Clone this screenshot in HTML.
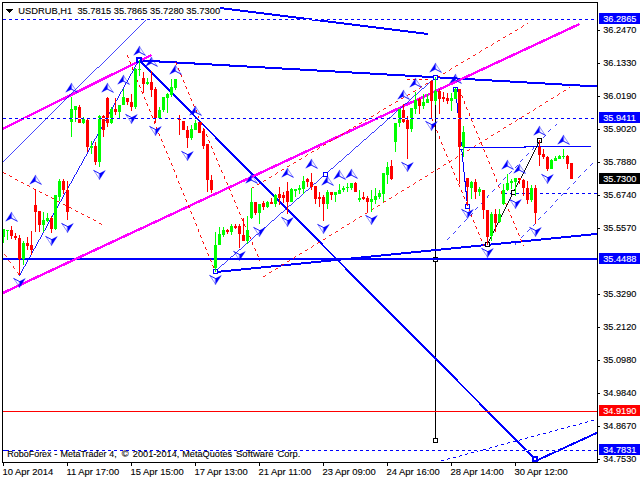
<!DOCTYPE html>
<html><head><meta charset="utf-8"><title>USDRUB,H1</title>
<style>html,body{margin:0;padding:0;background:#fff}svg{display:block}</style></head>
<body><svg width="640" height="480" viewBox="0 0 640 480">
<rect width="640" height="480" fill="#fff"/>
<g shape-rendering="crispEdges" fill="none">
<line x1="435.5" y1="77.5" x2="435.5" y2="440.5" stroke="#000" stroke-width="1"/>
<rect x="433" y="257" width="5" height="5" fill="#000"/><rect x="434" y="258" width="3" height="3" fill="#fff"/>
<line x1="3" y1="259" x2="597" y2="259" stroke="#0000ff" stroke-width="2"/>
<line x1="139" y1="60.33" x2="597" y2="86.5" stroke="#0000ff" stroke-width="2"/>
<line x1="180" y1="3" x2="428" y2="34" stroke="#0000ff" stroke-width="2"/>
<line x1="139" y1="60" x2="535.5" y2="459.5" stroke="#0000ff" stroke-width="2"/>
<line x1="535.5" y1="461" x2="597" y2="432.8" stroke="#0000ff" stroke-width="2"/>
<line x1="215" y1="272.09" x2="597" y2="233.89" stroke="#0000ff" stroke-width="2"/>
<line x1="3" y1="128.7" x2="151.5" y2="55" stroke="#ff00ff" stroke-width="2.4"/>
<line x1="3" y1="292.9" x2="579.5" y2="24.0" stroke="#ff00ff" stroke-width="2.4"/>
<line x1="3" y1="411.5" x2="597" y2="411.5" stroke="#ff0000" stroke-width="1"/>
<line x1="127" y1="55" x2="215" y2="271" stroke="#ff0000" stroke-width="0.945" stroke-dasharray="3.24 3.24"/>
<line x1="175.4" y1="62" x2="260" y2="261" stroke="#ff0000" stroke-width="0.939" stroke-dasharray="3.26 3.26"/>
<line x1="431.5" y1="118" x2="484" y2="246" stroke="#ff0000" stroke-width="0.944" stroke-dasharray="3.24 3.24"/>
<line x1="459" y1="89" x2="523.4" y2="246" stroke="#ff0000" stroke-width="0.944" stroke-dasharray="3.24 3.24"/>
<line x1="251" y1="188.75" x2="528" y2="23.2" stroke="#ff0000" stroke-width="0.876" stroke-dasharray="3.49 3.49"/>
<line x1="263" y1="277" x2="570" y2="87.5" stroke="#ff0000" stroke-width="0.868" stroke-dasharray="3.53 3.53"/>
<line x1="407" y1="79.5" x2="431" y2="79.5" stroke="#ff0000" stroke-width="1" stroke-dasharray="3.00 3.00"/>
<line x1="3" y1="172.5" x2="102" y2="224.4" stroke="#ff0000" stroke-width="0.903" stroke-dasharray="3.39 3.39"/>
<line x1="0" y1="248" x2="19.5" y2="275.5" stroke="#ff0000" stroke-width="0.832" stroke-dasharray="3.68 3.68"/>
<line x1="447" y1="240.2" x2="556.5" y2="123.5" stroke="#0000ff" stroke-width="0.744" stroke-dasharray="4.11 4.11"/>
<line x1="515" y1="244.5" x2="597" y2="158.5" stroke="#0000ff" stroke-width="0.738" stroke-dasharray="4.15 4.15"/>
<line x1="504" y1="193.5" x2="597" y2="193.5" stroke="#0000ff" stroke-width="1" stroke-dasharray="3.00 3.00"/>
<line x1="441" y1="461" x2="597" y2="419.4" stroke="#0000ff" stroke-width="0.986" stroke-dasharray="3.10 3.10"/>
<line x1="3" y1="161.5" x2="146" y2="20" stroke="#0000ff" stroke-width="0.725"/>
<line x1="19.5" y1="275.5" x2="139" y2="60" stroke="#0000ff" stroke-width="0.892"/>
<line x1="215" y1="271.5" x2="435.5" y2="77.5" stroke="#0000ff" stroke-width="0.766"/>
<line x1="455.6" y1="89.4" x2="467.5" y2="206" stroke="#0000ff" stroke-width="1.015"/>
<line x1="461" y1="147.5" x2="591" y2="146.5" stroke="#0000ff" stroke-width="1.02"/>
<line x1="487.25" y1="244.5" x2="539.6" y2="140.6" stroke="#000" stroke-width="0.911"/>
</g>
<g shape-rendering="crispEdges">
<rect x="136" y="57" width="6" height="6" fill="#00f"/><rect x="138" y="59" width="2" height="2" fill="#fff"/>
<rect x="213" y="269" width="5" height="5" fill="#0000ff"/><rect x="214" y="270" width="3" height="3" fill="#fff"/>
<rect x="323" y="172" width="5" height="5" fill="#0000ff"/><rect x="324" y="173" width="3" height="3" fill="#fff"/>
<rect x="433" y="75" width="5" height="5" fill="#0000ff"/><rect x="434" y="76" width="3" height="3" fill="#fff"/>
<rect x="453" y="87" width="5" height="5" fill="#0000ff"/><rect x="454" y="88" width="3" height="3" fill="#fff"/>
<rect x="465" y="204" width="5" height="5" fill="#0000ff"/><rect x="466" y="205" width="3" height="3" fill="#fff"/>
<rect x="459" y="145" width="5" height="5" fill="#0000ff"/><rect x="460" y="146" width="3" height="3" fill="#fff"/>
<rect x="532" y="456" width="6" height="6" fill="#00f"/><rect x="534" y="458" width="2" height="2" fill="#fff"/>
<rect x="433" y="438" width="5" height="5" fill="#000"/><rect x="434" y="439" width="3" height="3" fill="#fff"/>
<rect x="485" y="242" width="5" height="5" fill="#000"/><rect x="486" y="243" width="3" height="3" fill="#fff"/>
<rect x="511" y="190" width="5" height="5" fill="#000"/><rect x="512" y="191" width="3" height="3" fill="#fff"/>
<rect x="537" y="138" width="5" height="5" fill="#000"/><rect x="538" y="139" width="3" height="3" fill="#fff"/>
</g>
<g shape-rendering="crispEdges">
<rect x="3" y="229.0" width="1" height="14.0" fill="#00ff00"/>
<rect x="2" y="229.0" width="3" height="8.0" fill="#00ff00"/>
<rect x="7" y="230.0" width="1" height="10.0" fill="#00ff00"/>
<rect x="6" y="230.0" width="3" height="1.0" fill="#00ff00"/>
<rect x="11" y="226.0" width="1" height="13.0" fill="#ff0000"/>
<rect x="10" y="230.0" width="3" height="6.0" fill="#ff0000"/>
<rect x="15" y="233.0" width="1" height="7.0" fill="#ff0000"/>
<rect x="14" y="236.0" width="3" height="2.0" fill="#ff0000"/>
<rect x="19" y="235.0" width="1" height="40.0" fill="#ff0000"/>
<rect x="18" y="238.0" width="3" height="21.0" fill="#ff0000"/>
<rect x="23" y="241.0" width="1" height="24.0" fill="#00ff00"/>
<rect x="22" y="243.0" width="3" height="16.0" fill="#00ff00"/>
<rect x="27" y="237.0" width="1" height="13.0" fill="#ff0000"/>
<rect x="26" y="243.0" width="3" height="3.0" fill="#ff0000"/>
<rect x="31" y="231.0" width="1" height="24.0" fill="#ff0000"/>
<rect x="30" y="245.0" width="3" height="5.0" fill="#ff0000"/>
<rect x="35" y="189.0" width="1" height="43.0" fill="#ff0000"/>
<rect x="34" y="205.0" width="3" height="7.0" fill="#ff0000"/>
<rect x="39" y="211.0" width="1" height="21.0" fill="#ff0000"/>
<rect x="38" y="211.0" width="3" height="14.0" fill="#ff0000"/>
<rect x="43" y="212.0" width="1" height="20.0" fill="#00ff00"/>
<rect x="42" y="220.0" width="3" height="5.0" fill="#00ff00"/>
<rect x="47" y="213.0" width="1" height="9.0" fill="#00ff00"/>
<rect x="46" y="218.0" width="3" height="3.0" fill="#00ff00"/>
<rect x="51" y="216.0" width="1" height="17.0" fill="#ff0000"/>
<rect x="50" y="218.0" width="3" height="11.0" fill="#ff0000"/>
<rect x="55" y="195.0" width="1" height="35.0" fill="#00ff00"/>
<rect x="54" y="195.0" width="3" height="34.0" fill="#00ff00"/>
<rect x="59" y="179.0" width="1" height="22.0" fill="#00ff00"/>
<rect x="58" y="181.0" width="3" height="16.0" fill="#00ff00"/>
<rect x="63" y="179.0" width="1" height="15.0" fill="#ff0000"/>
<rect x="62" y="181.0" width="3" height="9.0" fill="#ff0000"/>
<rect x="67" y="181.0" width="1" height="39.0" fill="#ff0000"/>
<rect x="66" y="190.0" width="3" height="22.0" fill="#ff0000"/>
<rect x="71" y="97.0" width="1" height="40.0" fill="#00ff00"/>
<rect x="70" y="109.0" width="3" height="13.0" fill="#00ff00"/>
<rect x="75" y="106.0" width="1" height="16.0" fill="#00ff00"/>
<rect x="74" y="106.0" width="3" height="4.0" fill="#00ff00"/>
<rect x="79" y="105.0" width="1" height="18.0" fill="#ff0000"/>
<rect x="78" y="107.0" width="3" height="16.0" fill="#ff0000"/>
<rect x="83" y="117.0" width="1" height="7.0" fill="#00ff00"/>
<rect x="82" y="119.0" width="3" height="4.0" fill="#00ff00"/>
<rect x="87" y="119.0" width="1" height="33.0" fill="#ff0000"/>
<rect x="86" y="120.0" width="3" height="27.0" fill="#ff0000"/>
<rect x="91" y="141.0" width="1" height="13.0" fill="#00ff00"/>
<rect x="90" y="146.0" width="3" height="2.0" fill="#00ff00"/>
<rect x="95" y="142.0" width="1" height="23.0" fill="#ff0000"/>
<rect x="94" y="146.0" width="3" height="16.0" fill="#ff0000"/>
<rect x="99" y="115.0" width="1" height="52.0" fill="#00ff00"/>
<rect x="98" y="116.0" width="3" height="46.0" fill="#00ff00"/>
<rect x="103" y="115.0" width="1" height="22.0" fill="#ff0000"/>
<rect x="102" y="116.0" width="3" height="14.0" fill="#ff0000"/>
<rect x="107" y="97.0" width="1" height="30.0" fill="#ff0000"/>
<rect x="106" y="98.0" width="3" height="25.0" fill="#ff0000"/>
<rect x="111" y="107.0" width="1" height="17.0" fill="#00ff00"/>
<rect x="110" y="109.0" width="3" height="14.0" fill="#00ff00"/>
<rect x="115" y="98.0" width="1" height="17.0" fill="#ff0000"/>
<rect x="114" y="109.0" width="3" height="3.0" fill="#ff0000"/>
<rect x="119" y="105.0" width="1" height="13.0" fill="#00ff00"/>
<rect x="118" y="105.0" width="3" height="7.0" fill="#00ff00"/>
<rect x="123" y="89.0" width="1" height="16.0" fill="#00ff00"/>
<rect x="122" y="97.0" width="3" height="8.0" fill="#00ff00"/>
<rect x="127" y="98.0" width="1" height="7.0" fill="#ff0000"/>
<rect x="126" y="98.0" width="3" height="4.0" fill="#ff0000"/>
<rect x="131" y="94.0" width="1" height="17.0" fill="#ff0000"/>
<rect x="130" y="102.0" width="3" height="5.0" fill="#ff0000"/>
<rect x="135" y="68.0" width="1" height="41.0" fill="#00ff00"/>
<rect x="134" y="69.0" width="3" height="38.0" fill="#00ff00"/>
<rect x="139" y="60.0" width="1" height="16.0" fill="#00ff00"/>
<rect x="138" y="69.0" width="3" height="1.0" fill="#00ff00"/>
<rect x="143" y="72.0" width="1" height="21.0" fill="#ff0000"/>
<rect x="142" y="78.0" width="3" height="6.0" fill="#ff0000"/>
<rect x="147" y="78.0" width="1" height="7.0" fill="#00ff00"/>
<rect x="146" y="82.0" width="3" height="2.0" fill="#00ff00"/>
<rect x="151" y="71.0" width="1" height="26.0" fill="#ff0000"/>
<rect x="150" y="82.0" width="3" height="8.0" fill="#ff0000"/>
<rect x="155" y="87.0" width="1" height="36.0" fill="#ff0000"/>
<rect x="154" y="89.0" width="3" height="29.0" fill="#ff0000"/>
<rect x="159" y="107.0" width="1" height="12.0" fill="#00ff00"/>
<rect x="158" y="110.0" width="3" height="9.0" fill="#00ff00"/>
<rect x="163" y="97.0" width="1" height="15.0" fill="#00ff00"/>
<rect x="162" y="97.0" width="3" height="13.0" fill="#00ff00"/>
<rect x="167" y="93.0" width="1" height="20.0" fill="#00ff00"/>
<rect x="166" y="94.0" width="3" height="4.0" fill="#00ff00"/>
<rect x="171" y="79.0" width="1" height="18.0" fill="#00ff00"/>
<rect x="170" y="87.0" width="3" height="8.0" fill="#00ff00"/>
<rect x="175" y="79.0" width="1" height="11.0" fill="#00ff00"/>
<rect x="174" y="79.0" width="3" height="9.0" fill="#00ff00"/>
<rect x="179" y="115.0" width="1" height="20.0" fill="#ff0000"/>
<rect x="178" y="118.0" width="3" height="2.0" fill="#ff0000"/>
<rect x="183" y="121.0" width="1" height="9.0" fill="#ff0000"/>
<rect x="182" y="121.0" width="3" height="9.0" fill="#ff0000"/>
<rect x="187" y="126.0" width="1" height="22.0" fill="#ff0000"/>
<rect x="186" y="130.0" width="3" height="8.0" fill="#ff0000"/>
<rect x="191" y="125.0" width="1" height="15.0" fill="#00ff00"/>
<rect x="190" y="129.0" width="3" height="9.0" fill="#00ff00"/>
<rect x="195" y="120.0" width="1" height="10.0" fill="#00ff00"/>
<rect x="194" y="123.0" width="3" height="7.0" fill="#00ff00"/>
<rect x="199" y="122.0" width="1" height="11.0" fill="#ff0000"/>
<rect x="198" y="122.0" width="3" height="11.0" fill="#ff0000"/>
<rect x="203" y="128.0" width="1" height="21.0" fill="#ff0000"/>
<rect x="202" y="131.0" width="3" height="15.0" fill="#ff0000"/>
<rect x="207" y="144.0" width="1" height="48.0" fill="#ff0000"/>
<rect x="206" y="144.0" width="3" height="36.0" fill="#ff0000"/>
<rect x="211" y="175.0" width="1" height="18.0" fill="#ff0000"/>
<rect x="210" y="180.0" width="3" height="10.0" fill="#ff0000"/>
<rect x="215" y="232.0" width="1" height="40.0" fill="#00ff00"/>
<rect x="214" y="245.0" width="3" height="23.0" fill="#00ff00"/>
<rect x="219" y="227.0" width="1" height="18.0" fill="#00ff00"/>
<rect x="218" y="234.0" width="3" height="11.0" fill="#00ff00"/>
<rect x="223" y="227.0" width="1" height="10.0" fill="#00ff00"/>
<rect x="222" y="230.0" width="3" height="5.0" fill="#00ff00"/>
<rect x="227" y="229.0" width="1" height="5.0" fill="#ff0000"/>
<rect x="226" y="230.0" width="3" height="2.0" fill="#ff0000"/>
<rect x="231" y="224.0" width="1" height="11.0" fill="#00ff00"/>
<rect x="230" y="226.0" width="3" height="6.0" fill="#00ff00"/>
<rect x="235" y="224.0" width="1" height="5.0" fill="#ff0000"/>
<rect x="234" y="226.0" width="3" height="2.0" fill="#ff0000"/>
<rect x="239" y="224.0" width="1" height="24.0" fill="#ff0000"/>
<rect x="238" y="226.0" width="3" height="8.0" fill="#ff0000"/>
<rect x="243" y="218.0" width="1" height="23.0" fill="#ff0000"/>
<rect x="242" y="235.0" width="3" height="6.0" fill="#ff0000"/>
<rect x="247" y="216.0" width="1" height="28.0" fill="#00ff00"/>
<rect x="246" y="230.0" width="3" height="11.0" fill="#00ff00"/>
<rect x="251" y="188.0" width="1" height="31.0" fill="#00ff00"/>
<rect x="250" y="202.0" width="3" height="16.0" fill="#00ff00"/>
<rect x="255" y="202.0" width="1" height="13.0" fill="#ff0000"/>
<rect x="254" y="202.0" width="3" height="11.0" fill="#ff0000"/>
<rect x="259" y="204.0" width="1" height="20.0" fill="#00ff00"/>
<rect x="258" y="204.0" width="3" height="9.0" fill="#00ff00"/>
<rect x="263" y="201.0" width="1" height="9.0" fill="#ff0000"/>
<rect x="262" y="203.0" width="3" height="4.0" fill="#ff0000"/>
<rect x="267" y="201.0" width="1" height="7.0" fill="#00ff00"/>
<rect x="266" y="202.0" width="3" height="5.0" fill="#00ff00"/>
<rect x="271" y="198.0" width="1" height="6.0" fill="#ff0000"/>
<rect x="270" y="202.0" width="3" height="2.0" fill="#ff0000"/>
<rect x="275" y="194.0" width="1" height="13.0" fill="#00ff00"/>
<rect x="274" y="195.0" width="3" height="9.0" fill="#00ff00"/>
<rect x="279" y="187.0" width="1" height="18.0" fill="#ff0000"/>
<rect x="278" y="194.0" width="3" height="4.0" fill="#ff0000"/>
<rect x="283" y="192.0" width="1" height="11.0" fill="#ff0000"/>
<rect x="282" y="195.0" width="3" height="3.0" fill="#ff0000"/>
<rect x="287" y="182.0" width="1" height="32.0" fill="#ff0000"/>
<rect x="286" y="191.0" width="3" height="11.0" fill="#ff0000"/>
<rect x="291" y="188.0" width="1" height="14.0" fill="#00ff00"/>
<rect x="290" y="189.0" width="3" height="13.0" fill="#00ff00"/>
<rect x="295" y="189.0" width="1" height="8.0" fill="#00ff00"/>
<rect x="294" y="189.0" width="3" height="2.0" fill="#00ff00"/>
<rect x="299" y="185.0" width="1" height="9.0" fill="#00ff00"/>
<rect x="298" y="188.0" width="3" height="2.0" fill="#00ff00"/>
<rect x="303" y="176.0" width="1" height="18.0" fill="#00ff00"/>
<rect x="302" y="181.0" width="3" height="8.0" fill="#00ff00"/>
<rect x="307" y="178.0" width="1" height="9.0" fill="#ff0000"/>
<rect x="306" y="179.0" width="3" height="3.0" fill="#ff0000"/>
<rect x="311" y="173.0" width="1" height="17.0" fill="#ff0000"/>
<rect x="310" y="182.0" width="3" height="5.0" fill="#ff0000"/>
<rect x="315" y="186.0" width="1" height="18.0" fill="#ff0000"/>
<rect x="314" y="186.0" width="3" height="13.0" fill="#ff0000"/>
<rect x="319" y="192.0" width="1" height="15.0" fill="#ff0000"/>
<rect x="318" y="197.0" width="3" height="2.0" fill="#ff0000"/>
<rect x="323" y="195.0" width="1" height="26.0" fill="#ff0000"/>
<rect x="322" y="197.0" width="3" height="7.0" fill="#ff0000"/>
<rect x="327" y="190.0" width="1" height="19.0" fill="#00ff00"/>
<rect x="326" y="192.0" width="3" height="12.0" fill="#00ff00"/>
<rect x="331" y="192.0" width="1" height="8.0" fill="#ff0000"/>
<rect x="330" y="192.0" width="3" height="3.0" fill="#ff0000"/>
<rect x="335" y="192.0" width="1" height="10.0" fill="#00ff00"/>
<rect x="334" y="192.0" width="3" height="3.0" fill="#00ff00"/>
<rect x="339" y="184.0" width="1" height="10.0" fill="#00ff00"/>
<rect x="338" y="190.0" width="3" height="4.0" fill="#00ff00"/>
<rect x="343" y="186.0" width="1" height="6.0" fill="#00ff00"/>
<rect x="342" y="188.0" width="3" height="2.0" fill="#00ff00"/>
<rect x="347" y="183.0" width="1" height="9.0" fill="#00ff00"/>
<rect x="346" y="187.0" width="3" height="1.0" fill="#00ff00"/>
<rect x="351" y="183.0" width="1" height="7.0" fill="#00ff00"/>
<rect x="350" y="183.0" width="3" height="5.0" fill="#00ff00"/>
<rect x="355" y="182.0" width="1" height="10.0" fill="#ff0000"/>
<rect x="354" y="183.0" width="3" height="9.0" fill="#ff0000"/>
<rect x="359" y="190.0" width="1" height="12.0" fill="#00ff00"/>
<rect x="358" y="198.0" width="3" height="2.0" fill="#00ff00"/>
<rect x="363" y="192.0" width="1" height="8.0" fill="#ff0000"/>
<rect x="362" y="197.0" width="3" height="2.0" fill="#ff0000"/>
<rect x="367" y="196.0" width="1" height="16.0" fill="#ff0000"/>
<rect x="366" y="198.0" width="3" height="4.0" fill="#ff0000"/>
<rect x="371" y="190.0" width="1" height="22.0" fill="#00ff00"/>
<rect x="370" y="199.0" width="3" height="3.0" fill="#00ff00"/>
<rect x="375" y="188.0" width="1" height="16.0" fill="#00ff00"/>
<rect x="374" y="196.0" width="3" height="4.0" fill="#00ff00"/>
<rect x="379" y="190.0" width="1" height="9.0" fill="#00ff00"/>
<rect x="378" y="193.0" width="3" height="4.0" fill="#00ff00"/>
<rect x="383" y="173.0" width="1" height="29.0" fill="#00ff00"/>
<rect x="382" y="173.0" width="3" height="21.0" fill="#00ff00"/>
<rect x="387" y="162.0" width="1" height="22.0" fill="#00ff00"/>
<rect x="386" y="167.0" width="3" height="8.0" fill="#00ff00"/>
<rect x="391" y="160.0" width="1" height="20.0" fill="#ff0000"/>
<rect x="390" y="166.0" width="3" height="13.0" fill="#ff0000"/>
<rect x="395" y="123.0" width="1" height="29.0" fill="#00ff00"/>
<rect x="394" y="123.0" width="3" height="19.0" fill="#00ff00"/>
<rect x="399" y="109.0" width="1" height="18.0" fill="#00ff00"/>
<rect x="398" y="109.0" width="3" height="14.0" fill="#00ff00"/>
<rect x="403" y="104.0" width="1" height="19.0" fill="#ff0000"/>
<rect x="402" y="110.0" width="3" height="12.0" fill="#ff0000"/>
<rect x="407" y="116.0" width="1" height="43.0" fill="#ff0000"/>
<rect x="406" y="120.0" width="3" height="9.0" fill="#ff0000"/>
<rect x="411" y="108.0" width="1" height="24.0" fill="#00ff00"/>
<rect x="410" y="108.0" width="3" height="21.0" fill="#00ff00"/>
<rect x="415" y="92.0" width="1" height="22.0" fill="#00ff00"/>
<rect x="414" y="100.0" width="3" height="9.0" fill="#00ff00"/>
<rect x="419" y="98.0" width="1" height="16.0" fill="#ff0000"/>
<rect x="418" y="99.0" width="3" height="7.0" fill="#ff0000"/>
<rect x="423" y="94.0" width="1" height="15.0" fill="#00ff00"/>
<rect x="422" y="102.0" width="3" height="4.0" fill="#00ff00"/>
<rect x="427" y="94.0" width="1" height="9.0" fill="#00ff00"/>
<rect x="426" y="99.0" width="3" height="4.0" fill="#00ff00"/>
<rect x="431" y="81.0" width="1" height="37.0" fill="#ff0000"/>
<rect x="430" y="81.0" width="3" height="20.0" fill="#ff0000"/>
<rect x="435" y="77.0" width="1" height="28.0" fill="#00ff00"/>
<rect x="434" y="91.0" width="3" height="10.0" fill="#00ff00"/>
<rect x="439" y="89.0" width="1" height="25.0" fill="#ff0000"/>
<rect x="438" y="91.0" width="3" height="8.0" fill="#ff0000"/>
<rect x="443" y="92.0" width="1" height="10.0" fill="#ff0000"/>
<rect x="442" y="97.0" width="3" height="2.0" fill="#ff0000"/>
<rect x="447" y="93.0" width="1" height="11.0" fill="#ff0000"/>
<rect x="446" y="98.0" width="3" height="3.0" fill="#ff0000"/>
<rect x="451" y="93.0" width="1" height="18.0" fill="#00ff00"/>
<rect x="450" y="98.0" width="3" height="3.0" fill="#00ff00"/>
<rect x="455" y="88.0" width="1" height="11.0" fill="#00ff00"/>
<rect x="454" y="89.0" width="3" height="10.0" fill="#00ff00"/>
<rect x="459" y="89.0" width="1" height="95.0" fill="#ff0000"/>
<rect x="458" y="89.0" width="3" height="58.0" fill="#ff0000"/>
<rect x="463" y="126.0" width="1" height="31.0" fill="#00ff00"/>
<rect x="462" y="132.0" width="3" height="15.0" fill="#00ff00"/>
<rect x="467" y="178.0" width="1" height="28.0" fill="#ff0000"/>
<rect x="466" y="178.0" width="3" height="9.0" fill="#ff0000"/>
<rect x="471" y="181.0" width="1" height="18.0" fill="#00ff00"/>
<rect x="470" y="182.0" width="3" height="6.0" fill="#00ff00"/>
<rect x="475" y="179.0" width="1" height="20.0" fill="#ff0000"/>
<rect x="474" y="182.0" width="3" height="10.0" fill="#ff0000"/>
<rect x="479" y="187.0" width="1" height="9.0" fill="#00ff00"/>
<rect x="478" y="189.0" width="3" height="3.0" fill="#00ff00"/>
<rect x="483" y="190.0" width="1" height="29.0" fill="#ff0000"/>
<rect x="482" y="190.0" width="3" height="20.0" fill="#ff0000"/>
<rect x="487" y="210.0" width="1" height="35.0" fill="#ff0000"/>
<rect x="486" y="210.0" width="3" height="27.0" fill="#ff0000"/>
<rect x="491" y="212.0" width="1" height="29.0" fill="#00ff00"/>
<rect x="490" y="214.0" width="3" height="22.0" fill="#00ff00"/>
<rect x="495" y="209.0" width="1" height="23.0" fill="#ff0000"/>
<rect x="494" y="214.0" width="3" height="9.0" fill="#ff0000"/>
<rect x="499" y="209.0" width="1" height="14.0" fill="#00ff00"/>
<rect x="498" y="214.0" width="3" height="8.0" fill="#00ff00"/>
<rect x="503" y="184.0" width="1" height="21.0" fill="#00ff00"/>
<rect x="502" y="190.0" width="3" height="14.0" fill="#00ff00"/>
<rect x="507" y="174.0" width="1" height="17.0" fill="#00ff00"/>
<rect x="506" y="183.0" width="3" height="7.0" fill="#00ff00"/>
<rect x="511" y="179.0" width="1" height="10.0" fill="#00ff00"/>
<rect x="510" y="181.0" width="3" height="2.0" fill="#00ff00"/>
<rect x="515" y="178.0" width="1" height="18.0" fill="#00ff00"/>
<rect x="514" y="178.0" width="3" height="4.0" fill="#00ff00"/>
<rect x="519" y="178.0" width="1" height="6.0" fill="#ff0000"/>
<rect x="518" y="178.0" width="3" height="2.0" fill="#ff0000"/>
<rect x="523" y="179.0" width="1" height="17.0" fill="#ff0000"/>
<rect x="522" y="180.0" width="3" height="8.0" fill="#ff0000"/>
<rect x="527" y="181.0" width="1" height="23.0" fill="#ff0000"/>
<rect x="526" y="188.0" width="3" height="12.0" fill="#ff0000"/>
<rect x="531" y="185.0" width="1" height="17.0" fill="#00ff00"/>
<rect x="530" y="188.0" width="3" height="12.0" fill="#00ff00"/>
<rect x="535" y="185.0" width="1" height="39.0" fill="#ff0000"/>
<rect x="534" y="188.0" width="3" height="25.0" fill="#ff0000"/>
<rect x="539" y="140.0" width="1" height="26.0" fill="#ff0000"/>
<rect x="538" y="147.0" width="3" height="8.0" fill="#ff0000"/>
<rect x="543" y="149.0" width="1" height="10.0" fill="#ff0000"/>
<rect x="542" y="154.0" width="3" height="3.0" fill="#ff0000"/>
<rect x="547" y="156.0" width="1" height="15.0" fill="#ff0000"/>
<rect x="546" y="157.0" width="3" height="12.0" fill="#ff0000"/>
<rect x="551" y="159.0" width="1" height="10.0" fill="#00ff00"/>
<rect x="550" y="160.0" width="3" height="9.0" fill="#00ff00"/>
<rect x="555" y="156.0" width="1" height="5.0" fill="#00ff00"/>
<rect x="554" y="158.0" width="3" height="3.0" fill="#00ff00"/>
<rect x="559" y="155.0" width="1" height="4.0" fill="#00ff00"/>
<rect x="558" y="156.0" width="3" height="3.0" fill="#00ff00"/>
<rect x="563" y="149.0" width="1" height="10.0" fill="#00ff00"/>
<rect x="562" y="156.0" width="3" height="1.0" fill="#00ff00"/>
<rect x="567" y="155.0" width="1" height="14.0" fill="#ff0000"/>
<rect x="566" y="156.0" width="3" height="8.0" fill="#ff0000"/>
<rect x="571" y="163.0" width="1" height="16.0" fill="#ff0000"/>
<rect x="570" y="163.0" width="3" height="16.0" fill="#ff0000"/>
</g>
<g shape-rendering="crispEdges" fill="none">
<line x1="3" y1="19.5" x2="597" y2="19.5" stroke="#fff" stroke-width="1"/>
<line x1="3" y1="118.5" x2="597" y2="118.5" stroke="#fff" stroke-width="1"/>
<line x1="3" y1="450.5" x2="597" y2="450.5" stroke="#fff" stroke-width="1"/>
<line x1="3" y1="19.5" x2="597" y2="19.5" stroke="#0000ff" stroke-width="1" stroke-dasharray="3.00 3.00"/>
<line x1="3" y1="118.5" x2="597" y2="118.5" stroke="#0000ff" stroke-width="1" stroke-dasharray="3.00 3.00"/>
<line x1="0" y1="450.5" x2="597" y2="450.5" stroke="#0000ff" stroke-width="1" stroke-dasharray="3.00 3.00"/>
<line x1="3" y1="450.5" x2="6" y2="450.5" stroke="#0000ff" stroke-width="1"/>
</g>
<g stroke="#0000ff" stroke-linejoin="round" stroke-linecap="round" fill="none">
<path d="M11.5 212.2L5.7 221.2L11.5 218.2Z" fill="#0000ff" stroke-width="0.3"/>
<path d="M11.5 212.7L17.1 221.1" stroke-width="0.8" stroke-opacity="0.55"/>
<path d="M11.5 218.2L17.1 221.1" stroke-width="1" stroke-opacity="0.9"/>
<path d="M35.5 175.2L29.7 184.2L35.5 181.2Z" fill="#0000ff" stroke-width="0.3"/>
<path d="M35.5 175.7L41.1 184.1" stroke-width="0.8" stroke-opacity="0.55"/>
<path d="M35.5 181.2L41.1 184.1" stroke-width="1" stroke-opacity="0.9"/>
<path d="M71.5 83.2L65.7 92.2L71.5 89.2Z" fill="#0000ff" stroke-width="0.3"/>
<path d="M71.5 83.7L77.1 92.10000000000001" stroke-width="0.8" stroke-opacity="0.55"/>
<path d="M71.5 89.2L77.1 92.10000000000001" stroke-width="1" stroke-opacity="0.9"/>
<path d="M107.5 83.2L101.7 92.2L107.5 89.2Z" fill="#0000ff" stroke-width="0.3"/>
<path d="M107.5 83.7L113.1 92.10000000000001" stroke-width="0.8" stroke-opacity="0.55"/>
<path d="M107.5 89.2L113.1 92.10000000000001" stroke-width="1" stroke-opacity="0.9"/>
<path d="M123.5 75.2L117.7 84.2L123.5 81.2Z" fill="#0000ff" stroke-width="0.3"/>
<path d="M123.5 75.7L129.1 84.10000000000001" stroke-width="0.8" stroke-opacity="0.55"/>
<path d="M123.5 81.2L129.1 84.10000000000001" stroke-width="1" stroke-opacity="0.9"/>
<path d="M139.5 46.2L133.7 55.2L139.5 52.2Z" fill="#0000ff" stroke-width="0.3"/>
<path d="M139.5 46.7L145.1 55.1" stroke-width="0.8" stroke-opacity="0.55"/>
<path d="M139.5 52.2L145.1 55.1" stroke-width="1" stroke-opacity="0.9"/>
<path d="M151.5 57.2L145.7 66.2L151.5 63.2Z" fill="#0000ff" stroke-width="0.3"/>
<path d="M151.5 57.7L157.1 66.10000000000001" stroke-width="0.8" stroke-opacity="0.55"/>
<path d="M151.5 63.2L157.1 66.10000000000001" stroke-width="1" stroke-opacity="0.9"/>
<path d="M175.5 65.2L169.7 74.2L175.5 71.2Z" fill="#0000ff" stroke-width="0.3"/>
<path d="M175.5 65.7L181.1 74.10000000000001" stroke-width="0.8" stroke-opacity="0.55"/>
<path d="M175.5 71.2L181.1 74.10000000000001" stroke-width="1" stroke-opacity="0.9"/>
<path d="M195.5 106.2L189.7 115.2L195.5 112.2Z" fill="#0000ff" stroke-width="0.3"/>
<path d="M195.5 106.7L201.1 115.10000000000001" stroke-width="0.8" stroke-opacity="0.55"/>
<path d="M195.5 112.2L201.1 115.10000000000001" stroke-width="1" stroke-opacity="0.9"/>
<path d="M251.5 174.2L245.7 183.2L251.5 180.2Z" fill="#0000ff" stroke-width="0.3"/>
<path d="M251.5 174.7L257.1 183.1" stroke-width="0.8" stroke-opacity="0.55"/>
<path d="M251.5 180.2L257.1 183.1" stroke-width="1" stroke-opacity="0.9"/>
<path d="M287.5 168.2L281.7 177.2L287.5 174.2Z" fill="#0000ff" stroke-width="0.3"/>
<path d="M287.5 168.7L293.1 177.1" stroke-width="0.8" stroke-opacity="0.55"/>
<path d="M287.5 174.2L293.1 177.1" stroke-width="1" stroke-opacity="0.9"/>
<path d="M311.5 159.2L305.7 168.2L311.5 165.2Z" fill="#0000ff" stroke-width="0.3"/>
<path d="M311.5 159.7L317.1 168.1" stroke-width="0.8" stroke-opacity="0.55"/>
<path d="M311.5 165.2L317.1 168.1" stroke-width="1" stroke-opacity="0.9"/>
<path d="M327.5 176.2L321.7 185.2L327.5 182.2Z" fill="#0000ff" stroke-width="0.3"/>
<path d="M327.5 176.7L333.1 185.1" stroke-width="0.8" stroke-opacity="0.55"/>
<path d="M327.5 182.2L333.1 185.1" stroke-width="1" stroke-opacity="0.9"/>
<path d="M339.5 170.2L333.7 179.2L339.5 176.2Z" fill="#0000ff" stroke-width="0.3"/>
<path d="M339.5 170.7L345.1 179.1" stroke-width="0.8" stroke-opacity="0.55"/>
<path d="M339.5 176.2L345.1 179.1" stroke-width="1" stroke-opacity="0.9"/>
<path d="M351.5 169.2L345.7 178.2L351.5 175.2Z" fill="#0000ff" stroke-width="0.3"/>
<path d="M351.5 169.7L357.1 178.1" stroke-width="0.8" stroke-opacity="0.55"/>
<path d="M351.5 175.2L357.1 178.1" stroke-width="1" stroke-opacity="0.9"/>
<path d="M403.5 90.2L397.7 99.2L403.5 96.2Z" fill="#0000ff" stroke-width="0.3"/>
<path d="M403.5 90.7L409.1 99.10000000000001" stroke-width="0.8" stroke-opacity="0.55"/>
<path d="M403.5 96.2L409.1 99.10000000000001" stroke-width="1" stroke-opacity="0.9"/>
<path d="M415.5 78.2L409.7 87.2L415.5 84.2Z" fill="#0000ff" stroke-width="0.3"/>
<path d="M415.5 78.7L421.1 87.10000000000001" stroke-width="0.8" stroke-opacity="0.55"/>
<path d="M415.5 84.2L421.1 87.10000000000001" stroke-width="1" stroke-opacity="0.9"/>
<path d="M435.5 63.2L429.7 72.2L435.5 69.2Z" fill="#0000ff" stroke-width="0.3"/>
<path d="M435.5 63.7L441.1 72.10000000000001" stroke-width="0.8" stroke-opacity="0.55"/>
<path d="M435.5 69.2L441.1 72.10000000000001" stroke-width="1" stroke-opacity="0.9"/>
<path d="M455.5 74.2L449.7 83.2L455.5 80.2Z" fill="#0000ff" stroke-width="0.3"/>
<path d="M455.5 74.7L461.1 83.10000000000001" stroke-width="0.8" stroke-opacity="0.55"/>
<path d="M455.5 80.2L461.1 83.10000000000001" stroke-width="1" stroke-opacity="0.9"/>
<path d="M507.5 160.2L501.7 169.2L507.5 166.2Z" fill="#0000ff" stroke-width="0.3"/>
<path d="M507.5 160.7L513.1 169.1" stroke-width="0.8" stroke-opacity="0.55"/>
<path d="M507.5 166.2L513.1 169.1" stroke-width="1" stroke-opacity="0.9"/>
<path d="M519.5 164.2L513.7 173.2L519.5 170.2Z" fill="#0000ff" stroke-width="0.3"/>
<path d="M519.5 164.7L525.1 173.1" stroke-width="0.8" stroke-opacity="0.55"/>
<path d="M519.5 170.2L525.1 173.1" stroke-width="1" stroke-opacity="0.9"/>
<path d="M539.5 126.2L533.7 135.2L539.5 132.2Z" fill="#0000ff" stroke-width="0.3"/>
<path d="M539.5 126.7L545.1 135.1" stroke-width="0.8" stroke-opacity="0.55"/>
<path d="M539.5 132.2L545.1 135.1" stroke-width="1" stroke-opacity="0.9"/>
<path d="M563.5 135.2L557.7 144.2L563.5 141.2Z" fill="#0000ff" stroke-width="0.3"/>
<path d="M563.5 135.7L569.1 144.1" stroke-width="0.8" stroke-opacity="0.55"/>
<path d="M563.5 141.2L569.1 144.1" stroke-width="1" stroke-opacity="0.9"/>
<path d="M19.5 287.5L25.3 278.5L19.5 281.5Z" fill="#0000ff" stroke-width="0.3"/>
<path d="M19.5 287.0L13.9 278.6" stroke-width="0.8" stroke-opacity="0.55"/>
<path d="M19.5 281.5L13.9 278.6" stroke-width="1" stroke-opacity="0.9"/>
<path d="M51.5 245.5L57.3 236.5L51.5 239.5Z" fill="#0000ff" stroke-width="0.3"/>
<path d="M51.5 245.0L45.9 236.6" stroke-width="0.8" stroke-opacity="0.55"/>
<path d="M51.5 239.5L45.9 236.6" stroke-width="1" stroke-opacity="0.9"/>
<path d="M67.5 232.5L73.3 223.5L67.5 226.5Z" fill="#0000ff" stroke-width="0.3"/>
<path d="M67.5 232.0L61.9 223.6" stroke-width="0.8" stroke-opacity="0.55"/>
<path d="M67.5 226.5L61.9 223.6" stroke-width="1" stroke-opacity="0.9"/>
<path d="M99.5 179.5L105.3 170.5L99.5 173.5Z" fill="#0000ff" stroke-width="0.3"/>
<path d="M99.5 179.0L93.9 170.6" stroke-width="0.8" stroke-opacity="0.55"/>
<path d="M99.5 173.5L93.9 170.6" stroke-width="1" stroke-opacity="0.9"/>
<path d="M131.5 123.5L137.3 114.5L131.5 117.5Z" fill="#0000ff" stroke-width="0.3"/>
<path d="M131.5 123.0L125.9 114.6" stroke-width="0.8" stroke-opacity="0.55"/>
<path d="M131.5 117.5L125.9 114.6" stroke-width="1" stroke-opacity="0.9"/>
<path d="M155.5 135.5L161.3 126.5L155.5 129.5Z" fill="#0000ff" stroke-width="0.3"/>
<path d="M155.5 135.0L149.9 126.6" stroke-width="0.8" stroke-opacity="0.55"/>
<path d="M155.5 129.5L149.9 126.6" stroke-width="1" stroke-opacity="0.9"/>
<path d="M187.5 160.5L193.3 151.5L187.5 154.5Z" fill="#0000ff" stroke-width="0.3"/>
<path d="M187.5 160.0L181.9 151.6" stroke-width="0.8" stroke-opacity="0.55"/>
<path d="M187.5 154.5L181.9 151.6" stroke-width="1" stroke-opacity="0.9"/>
<path d="M215.5 284.5L221.3 275.5L215.5 278.5Z" fill="#0000ff" stroke-width="0.3"/>
<path d="M215.5 284.0L209.9 275.6" stroke-width="0.8" stroke-opacity="0.55"/>
<path d="M215.5 278.5L209.9 275.6" stroke-width="1" stroke-opacity="0.9"/>
<path d="M239.5 260.5L245.3 251.5L239.5 254.5Z" fill="#0000ff" stroke-width="0.3"/>
<path d="M239.5 260.0L233.9 251.6" stroke-width="0.8" stroke-opacity="0.55"/>
<path d="M239.5 254.5L233.9 251.6" stroke-width="1" stroke-opacity="0.9"/>
<path d="M259.5 236.5L265.3 227.5L259.5 230.5Z" fill="#0000ff" stroke-width="0.3"/>
<path d="M259.5 236.0L253.9 227.6" stroke-width="0.8" stroke-opacity="0.55"/>
<path d="M259.5 230.5L253.9 227.6" stroke-width="1" stroke-opacity="0.9"/>
<path d="M287.5 226.5L293.3 217.5L287.5 220.5Z" fill="#0000ff" stroke-width="0.3"/>
<path d="M287.5 226.0L281.9 217.6" stroke-width="0.8" stroke-opacity="0.55"/>
<path d="M287.5 220.5L281.9 217.6" stroke-width="1" stroke-opacity="0.9"/>
<path d="M323.5 233.5L329.3 224.5L323.5 227.5Z" fill="#0000ff" stroke-width="0.3"/>
<path d="M323.5 233.0L317.9 224.6" stroke-width="0.8" stroke-opacity="0.55"/>
<path d="M323.5 227.5L317.9 224.6" stroke-width="1" stroke-opacity="0.9"/>
<path d="M371.5 224.5L377.3 215.5L371.5 218.5Z" fill="#0000ff" stroke-width="0.3"/>
<path d="M371.5 224.0L365.9 215.6" stroke-width="0.8" stroke-opacity="0.55"/>
<path d="M371.5 218.5L365.9 215.6" stroke-width="1" stroke-opacity="0.9"/>
<path d="M407.5 171.5L413.3 162.5L407.5 165.5Z" fill="#0000ff" stroke-width="0.3"/>
<path d="M407.5 171.0L401.9 162.6" stroke-width="0.8" stroke-opacity="0.55"/>
<path d="M407.5 165.5L401.9 162.6" stroke-width="1" stroke-opacity="0.9"/>
<path d="M431.5 130.5L437.3 121.5L431.5 124.5Z" fill="#0000ff" stroke-width="0.3"/>
<path d="M431.5 130.0L425.9 121.6" stroke-width="0.8" stroke-opacity="0.55"/>
<path d="M431.5 124.5L425.9 121.6" stroke-width="1" stroke-opacity="0.9"/>
<path d="M467.5 218.5L473.3 209.5L467.5 212.5Z" fill="#0000ff" stroke-width="0.3"/>
<path d="M467.5 218.0L461.9 209.6" stroke-width="0.8" stroke-opacity="0.55"/>
<path d="M467.5 212.5L461.9 209.6" stroke-width="1" stroke-opacity="0.9"/>
<path d="M487.5 257.5L493.3 248.5L487.5 251.5Z" fill="#0000ff" stroke-width="0.3"/>
<path d="M487.5 257.0L481.9 248.6" stroke-width="0.8" stroke-opacity="0.55"/>
<path d="M487.5 251.5L481.9 248.6" stroke-width="1" stroke-opacity="0.9"/>
<path d="M515.5 208.5L521.3 199.5L515.5 202.5Z" fill="#0000ff" stroke-width="0.3"/>
<path d="M515.5 208.0L509.9 199.6" stroke-width="0.8" stroke-opacity="0.55"/>
<path d="M515.5 202.5L509.9 199.6" stroke-width="1" stroke-opacity="0.9"/>
<path d="M535.5 236.5L541.3 227.5L535.5 230.5Z" fill="#0000ff" stroke-width="0.3"/>
<path d="M535.5 236.0L529.9 227.6" stroke-width="0.8" stroke-opacity="0.55"/>
<path d="M535.5 230.5L529.9 227.6" stroke-width="1" stroke-opacity="0.9"/>
<path d="M547.5 183.5L553.3 174.5L547.5 177.5Z" fill="#0000ff" stroke-width="0.3"/>
<path d="M547.5 183.0L541.9 174.6" stroke-width="0.8" stroke-opacity="0.55"/>
<path d="M547.5 177.5L541.9 174.6" stroke-width="1" stroke-opacity="0.9"/>
</g>
<g shape-rendering="crispEdges">
<rect x="0" y="0" width="640" height="2" fill="#fff"/><rect x="0" y="0" width="2" height="480" fill="#fff"/>
<rect x="598" y="0" width="42" height="480" fill="#fff"/><rect x="0" y="463" width="640" height="17" fill="#fff"/>
<rect x="4" y="3" width="216" height="14" fill="#fff"/>
<rect x="2" y="2" width="596" height="1" fill="#000"/>
<rect x="2" y="2" width="1" height="461" fill="#000"/>
<rect x="597" y="2" width="1" height="461" fill="#000"/>
<rect x="2" y="462" width="596" height="1" fill="#000"/>
<path d="M6 9h7l-3.5 4z" fill="#000"/>
<rect x="598" y="30" width="2" height="1" fill="#000"/>
<rect x="598" y="63" width="2" height="1" fill="#000"/>
<rect x="598" y="96" width="2" height="1" fill="#000"/>
<rect x="598" y="129" width="2" height="1" fill="#000"/>
<rect x="598" y="162" width="2" height="1" fill="#000"/>
<rect x="598" y="195" width="2" height="1" fill="#000"/>
<rect x="598" y="228" width="2" height="1" fill="#000"/>
<rect x="598" y="294" width="2" height="1" fill="#000"/>
<rect x="598" y="327" width="2" height="1" fill="#000"/>
<rect x="598" y="360" width="2" height="1" fill="#000"/>
<rect x="598" y="393" width="2" height="1" fill="#000"/>
<rect x="598" y="426" width="2" height="1" fill="#000"/>
<rect x="598" y="459" width="2" height="1" fill="#000"/>
<rect x="3" y="463" width="1" height="3" fill="#000"/>
<rect x="67" y="463" width="1" height="3" fill="#000"/>
<rect x="131" y="463" width="1" height="3" fill="#000"/>
<rect x="195" y="463" width="1" height="3" fill="#000"/>
<rect x="259" y="463" width="1" height="3" fill="#000"/>
<rect x="323" y="463" width="1" height="3" fill="#000"/>
<rect x="387" y="463" width="1" height="3" fill="#000"/>
<rect x="451" y="463" width="1" height="3" fill="#000"/>
<rect x="515" y="463" width="1" height="3" fill="#000"/>
<rect x="599" y="13" width="41" height="11" fill="#0000ff"/>
<rect x="599" y="112" width="41" height="11" fill="#0000ff"/>
<rect x="599" y="173" width="41" height="11" fill="#000"/>
<rect x="599" y="253" width="41" height="11" fill="#0000ff"/>
<rect x="599" y="405" width="41" height="11" fill="#ff0000"/>
<rect x="599" y="444" width="41" height="11" fill="#0000ff"/>
</g>
<g font-family="Liberation Sans, Arial, sans-serif" font-size="9.8px" fill="#000" stroke="#000" stroke-width="0.12">
<text transform="translate(603.2 33) scale(0.94 1)">36.2470</text>
<text transform="translate(603.2 66) scale(0.94 1)">36.1330</text>
<text transform="translate(603.2 99) scale(0.94 1)">36.0190</text>
<text transform="translate(603.2 132) scale(0.94 1)">35.9020</text>
<text transform="translate(603.2 165) scale(0.94 1)">35.7880</text>
<text transform="translate(603.2 198) scale(0.94 1)">35.6740</text>
<text transform="translate(603.2 231) scale(0.94 1)">35.5570</text>
<text transform="translate(603.2 297) scale(0.94 1)">35.3290</text>
<text transform="translate(603.2 330) scale(0.94 1)">35.2120</text>
<text transform="translate(603.2 363) scale(0.94 1)">35.0980</text>
<text transform="translate(603.2 396) scale(0.94 1)">34.9840</text>
<text transform="translate(603.2 429) scale(0.94 1)">34.8670</text>
<text transform="translate(603.2 462) scale(0.94 1)">34.7530</text>
<text transform="translate(603.2 22) scale(0.94 1)" fill="#fff" stroke="#fff">36.2865</text>
<text transform="translate(603.2 121) scale(0.94 1)" fill="#fff" stroke="#fff">35.9411</text>
<text transform="translate(603.2 182) scale(0.94 1)" fill="#fff" stroke="#fff">35.7300</text>
<text transform="translate(603.2 262) scale(0.94 1)" fill="#fff" stroke="#fff">35.4488</text>
<text transform="translate(603.2 414) scale(0.94 1)" fill="#fff" stroke="#fff">34.9190</text>
<text transform="translate(603.2 453) scale(0.94 1)" fill="#fff" stroke="#fff">34.7831</text>
<text transform="translate(2.4 474.7) scale(0.962 1)">10 Apr 2014</text>
<text transform="translate(66.4 474.7) scale(0.962 1)">11 Apr 17:00</text>
<text transform="translate(130.4 474.7) scale(0.962 1)">15 Apr 15:00</text>
<text transform="translate(194.4 474.7) scale(0.962 1)">17 Apr 13:00</text>
<text transform="translate(258.4 474.7) scale(0.962 1)">21 Apr 11:00</text>
<text transform="translate(322.4 474.7) scale(0.962 1)">23 Apr 09:00</text>
<text transform="translate(386.4 474.7) scale(0.962 1)">24 Apr 16:00</text>
<text transform="translate(450.4 474.7) scale(0.962 1)">28 Apr 14:00</text>
<text transform="translate(514.4 474.7) scale(0.962 1)">30 Apr 12:00</text>
<text transform="translate(18.3 13.5) scale(0.953 1)" style="white-space:pre">USDRUB,H1  35.7815 35.7865 35.7280 35.7300</text>
<text transform="translate(7.3 457.4) scale(0.915 1)">RoboForex</text>
<text transform="translate(54.3 457.4) scale(0.95 1)">-</text>
<text transform="translate(60.5 457.4) scale(0.915 1)">MetaTrader</text>
<text transform="translate(109.3 457.4) scale(0.9 1)">4,</text>
<text transform="translate(121.8 457.4) scale(0.95 1)">©</text>
<text transform="translate(132.8 457.4) scale(0.94 1)">2001-2014,</text>
<text transform="translate(182.2 457.4) scale(0.937 1)">MetaQuotes</text>
<text transform="translate(236.0 457.4) scale(0.975 1)">Software</text>
<text transform="translate(277.5 457.4) scale(0.95 1)">Corp.</text>
</g>
</svg></body></html>
